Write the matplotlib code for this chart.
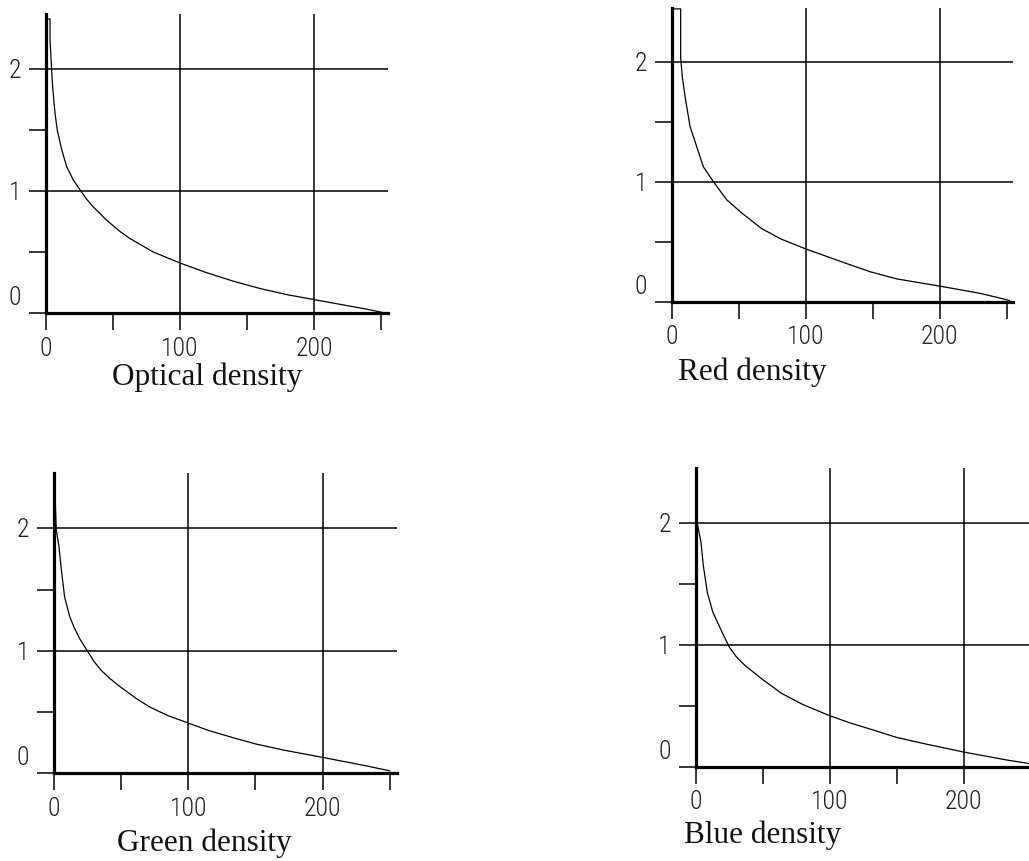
import matplotlib.pyplot as plt

W, H = 1029, 861

# values
optical_x = [0, 3.0, 3.0, 4.2, 5, 6.7, 8.4, 11.7, 15.4, 20.4, 26.6, 30.5, 35.3, 45.3, 55, 62.7, 80, 100, 120, 140, 160, 180, 200, 220, 240, 253]
optical_y = [2.41, 2.41, 2.24, 1.99, 1.85, 1.64, 1.5, 1.34, 1.2, 1.09, 0.99, 0.93, 0.87, 0.76, 0.67, 0.61, 0.5, 0.41, 0.33, 0.26, 0.2, 0.15, 0.11, 0.07, 0.03, 0.0]

red_x = [0, 6.7, 6.7, 7.9, 10.4, 13.7, 18.7, 23.6, 31.1, 41, 52.2, 67, 82, 100, 115, 130, 148, 168, 200, 230, 245, 252]
red_y = [2.44, 2.44, 2.03, 1.875, 1.68, 1.46, 1.29, 1.125, 1.0, 0.85, 0.74, 0.61, 0.52, 0.44, 0.38, 0.32, 0.25, 0.19, 0.13, 0.07, 0.03, 0.01]

green_x = [0.5, 1.0, 1.7, 3.7, 5.5, 7.9, 11.7, 15, 19.1, 25.3, 30, 35.2, 41, 47.6, 61.3, 71.5, 85, 100, 115, 133.5, 150, 170.7, 200, 232.8, 250]
green_y = [2.42, 2.2, 1.99, 1.85, 1.66, 1.44, 1.28, 1.19, 1.1, 0.99, 0.91, 0.84, 0.78, 0.72, 0.61, 0.54, 0.47, 0.41, 0.35, 0.29, 0.24, 0.19, 0.13, 0.06, 0.02]

blue_x = [0.5, 1.0, 1.4, 4.1, 5.8, 8.8, 12.8, 19.5, 25.2, 30.5, 36.9, 49.4, 64.3, 80, 99.6, 115, 132.7, 150, 170, 200, 232, 246.6, 255]
blue_y = [2.42, 2.2, 1.99, 1.84, 1.65, 1.43, 1.27, 1.11, 0.98, 0.9, 0.83, 0.72, 0.6, 0.51, 0.42, 0.36, 0.3, 0.24, 0.19, 0.12, 0.055, 0.03, 0.01]

titles = ["Optical density", "Red density", "Green density", "Blue density"]

x_ticks = [0, 50, 100, 150, 200, 250]
x_labels = ["0", "", "100", "", "200", ""]
y_ticks = [0, 0.5, 1, 1.5, 2]
y_labels = {0: "0", 1: "1", 2: "2"}

narrow = ["Roboto Condensed", "DejaVu Sans Condensed", "Liberation Sans Narrow", "Liberation Sans"]
serif = ["Liberation Serif", "DejaVu Serif"]

fig = plt.figure(figsize=(W / 100, H / 100), dpi=100)


def panel(box, xs, ys, title, title_pos):
    left, top, right, bottom = box
    ax = fig.add_axes([left / W, 1 - bottom / H, (right - left) / W, (bottom - top) / H])
    ax.set_xlim(0, 255)
    ax.set_ylim(0, 2.45)
    for side in ["top", "right"]:
        ax.spines[side].set_visible(False)
    for side in ["left", "bottom"]:
        ax.spines[side].set_linewidth(2.3)
    ax.set_xticks(x_ticks)
    ax.set_xticklabels(x_labels, fontsize=18.5, family=narrow, fontweight="light", color="#222222")
    ax.set_yticks(y_ticks)
    ax.set_yticklabels([])
    ax.tick_params(direction="out", length=12, width=1.1, color="black", pad=5)

    for v in [1, 2]:
        ax.axhline(v, color="black", lw=1.1)
    for v in [100, 200]:
        ax.axvline(v, color="black", lw=1.1)

    for v, s in y_labels.items():
        dy = 15 if v == 0 else -2
        ax.annotate(s, xy=(0, v), xytext=(-31, dy), textcoords="offset pixels",
                    ha="center", va="center", fontsize=18.5, family=narrow,
                    fontweight="light", color="#222222")

    ax.plot(xs, ys, color="black", lw=0.9, clip_on=False)
    ax.text(title_pos[0], title_pos[1], title, ha="center", va="center",
            fontsize=22.5, family=serif, color="#111111")


panel((46, 14.1, 387.7, 313), optical_x, optical_y, titles[0], (120, -0.53))
panel((671.7, 7.7, 1013.4, 301.7), red_x, red_y, titles[1], (60, -0.59))
panel((54, 473.2, 396.5, 773.3), green_x, green_y, titles[2], (112, -0.57))
panel((695.5, 467.8, 1037.5, 766.7), blue_x, blue_y, titles[3], (50, -0.56))

fig.savefig("out.png", dpi=100)
